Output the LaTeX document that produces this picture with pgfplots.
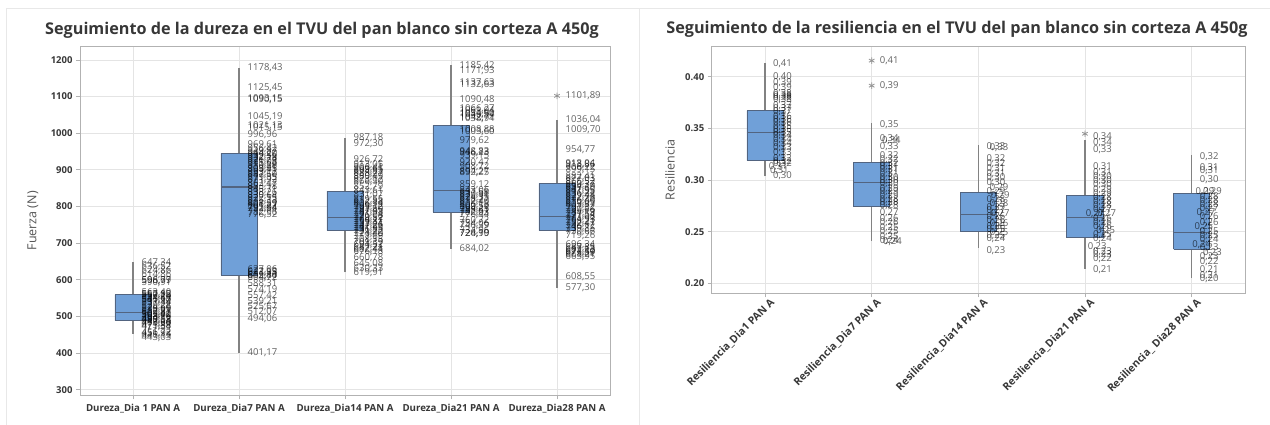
\documentclass[border=0pt]{standalone}
\usepackage{fontspec}
\setmainfont{Open Sans}
\usepackage{pgfplots}
\usepackage{pgfplotstable}
\pgfplotsset{compat=1.18}

\definecolor{boxfill}{RGB}{112,160,216}
\definecolor{boxdraw}{RGB}{82,100,128}
\definecolor{whisk}{RGB}{130,130,130}
\definecolor{gridc}{RGB}{228,228,228}
\definecolor{framec}{RGB}{178,178,178}
\definecolor{txt}{RGB}{55,55,55}
\definecolor{panel}{RGB}{232,232,232}

% ---------- data labels, left chart (Fuerza) ----------
\pgfplotstableread{
x y lab
1 647.34 647,34
1 636.52 636,52
1 624.86 624,86
1 614.86 614,86
1 598.77 598,77
1 596.99 596,99
1 590.91 590,91
1 563.40 563,40
1 560.12 560,12
1 557.85 557,85
1 553.20 553,20
1 548.63 548,63
1 545.17 545,17
1 541.90 541,90
1 537.44 537,44
1 530.28 530,28
1 524.66 524,66
1 519.05 519,05
1 512.37 512,37
1 509.81 509,81
1 505.60 505,60
1 503.42 503,42
1 498.76 498,76
1 494.12 494,12
1 490.55 490,55
1 487.03 487,03
1 483.66 483,66
1 479.20 479,20
1 475.88 475,88
1 471.34 471,34
1 456.72 456,72
1 451.93 451,93
1 446.15 446,15
1 443.03 443,03
2 1178.43 1178,43
2 1125.45 1125,45
2 1093.15 1093,15
2 1090.15 1090,15
2 1045.19 1045,19
2 1021.13 1021,13
2 1015.15 1015,15
2 996.96 996,96
2 969.61 969,61
2 956.42 956,42
2 949.87 949,87
2 944.20 944,20
2 939.56 939,56
2 932.18 932,18
2 926.74 926,74
2 921.03 921,03
2 915.66 915,66
2 910.28 910,28
2 903.95 903,95
2 899.41 899,41
2 893.12 893,12
2 887.60 887,60
2 879.35 879,35
2 871.92 871,92
2 862.47 862,47
2 853.18 853,18
2 845.71 845,71
2 838.26 838,26
2 830.64 830,64
2 822.15 822,15
2 815.33 815,33
2 808.59 808,59
2 801.27 801,27
2 795.84 795,84
2 792.94 792,94
2 782.96 782,96
2 776.52 776,52
2 627.06 627,06
2 622.13 622,13
2 617.95 617,95
2 612.40 612,40
2 609.84 609,84
2 604.72 604,72
2 588.31 588,31
2 574.19 574,19
2 557.42 557,42
2 539.21 539,21
2 525.67 525,67
2 512.07 512,07
2 494.06 494,06
2 401.17 401,17
3 987.18 987,18
3 972.30 972,30
3 926.72 926,72
3 913.05 913,05
3 906.41 906,41
3 899.65 899,65
3 894.83 894,83
3 888.27 888,27
3 880.49 880,49
3 873.12 873,12
3 866.90 866,90
3 852.79 852,79
3 843.61 843,61
3 831.07 831,07
3 819.55 819,55
3 812.88 812,88
3 806.34 806,34
3 799.12 799,12
3 793.60 793,60
3 787.45 787,45
3 781.93 781,93
3 776.08 776,08
3 770.52 770,52
3 764.17 764,17
3 759.81 759,81
3 753.44 753,44
3 747.26 747,26
3 741.63 741,63
3 736.85 736,85
3 731.22 731,22
3 724.40 724,40
3 717.69 717,69
3 708.15 708,15
3 701.39 701,39
3 694.52 694,52
3 687.21 687,21
3 682.44 682,44
3 676.18 676,18
3 660.78 660,78
3 645.08 645,08
3 630.33 630,33
3 619.91 619,91
4 1185.42 1185,42
4 1171.93 1171,93
4 1137.63 1137,63
4 1132.63 1132,63
4 1090.48 1090,48
4 1066.27 1066,27
4 1061.04 1061,04
4 1054.50 1054,50
4 1049.94 1049,94
4 1042.71 1042,71
4 1038.94 1038,94
4 1008.88 1008,88
4 1003.60 1003,60
4 979.62 979,62
4 948.83 948,83
4 946.23 946,23
4 939.15 939,15
4 920.47 920,47
4 908.72 908,72
4 894.27 894,27
4 892.25 892,25
4 859.12 859,12
4 843.06 843,06
4 837.58 837,58
4 830.91 830,91
4 824.35 824,35
4 818.77 818,77
4 812.40 812,40
4 806.13 806,13
4 800.59 800,59
4 794.25 794,25
4 788.61 788,61
4 782.03 782,03
4 776.44 776,44
4 760.72 760,72
4 754.06 754,06
4 746.39 746,39
4 734.96 734,96
4 726.19 726,19
4 724.90 724,90
4 684.02 684,02
5 1101.89 1101,89
5 1036.04 1036,04
5 1009.70 1009,70
5 954.77 954,77
5 918.04 918,04
5 913.86 913,86
5 906.22 906,22
5 899.15 899,15
5 882.41 882,41
5 877.03 877,03
5 866.52 866,52
5 860.37 860,37
5 854.19 854,19
5 847.60 847,60
5 841.95 841,95
5 836.22 836,22
5 829.48 829,48
5 822.73 822,73
5 816.40 816,40
5 810.05 810,05
5 803.87 803,87
5 797.32 797,32
5 790.66 790,66
5 784.19 784,19
5 777.54 777,54
5 771.08 771,08
5 764.93 764,93
5 758.21 758,21
5 752.47 752,47
5 746.12 746,12
5 739.85 739,85
5 730.66 730,66
5 719.26 719,26
5 696.34 696,34
5 687.85 687,85
5 682.13 682,13
5 677.40 677,40
5 673.59 673,59
5 668.21 668,21
5 663.95 663,95
5 608.55 608,55
5 577.30 577,30
}\LabF

% ---------- data labels, right chart (Resiliencia) ----------
\pgfplotstableread{
x y lab
1 0.413 0,41
1 0.400 0,40
1 0.394 0,39
1 0.389 0,39
1 0.384 0,38
1 0.382 0,38
1 0.380 0,38
1 0.378 0,38
1 0.372 0,37
1 0.369 0,37
1 0.366 0,37
1 0.361 0,36
1 0.358 0,36
1 0.355 0,36
1 0.352 0,35
1 0.349 0,35
1 0.346 0,35
1 0.343 0,34
1 0.339 0,34
1 0.335 0,34
1 0.331 0,33
1 0.326 0,33
1 0.321 0,32
1 0.318 0,32
1 0.316 0,32
0.96 0.313 0,31
0.97 0.309 0,31
1 0.304 0,30
2 0.4155 0,41
2 0.3913 0,39
2 0.354 0,35
2 0.340 0,34
2.02 0.338 0,34
2 0.332 0,33
2 0.324 0,32
2 0.320 0,32
2 0.316 0,32
2 0.313 0,31
2 0.310 0,31
2 0.306 0,31
2 0.302 0,30
2 0.299 0,30
2 0.296 0,30
2 0.292 0,29
2 0.289 0,29
2 0.285 0,29
2 0.281 0,28
2 0.278 0,28
2 0.275 0,28
2 0.268 0,27
2 0.263 0,26
2 0.259 0,26
2 0.254 0,25
2 0.250 0,25
2 0.245 0,25
2 0.241 0,24
2.03 0.240 0,24
3 0.332 0,33
3.03 0.331 0,33
3 0.321 0,32
3 0.316 0,32
3 0.311 0,31
3 0.306 0,31
3 0.302 0,30
3 0.297 0,30
3.03 0.293 0,29
3 0.289 0,29
3.04 0.285 0,29
3 0.281 0,28
3.03 0.277 0,28
3 0.273 0,27
3 0.270 0,27
3.04 0.267 0,27
3 0.264 0,26
3 0.261 0,26
3.03 0.258 0,26
3 0.255 0,26
3 0.252 0,25
3.03 0.249 0,25
3 0.246 0,25
3 0.243 0,24
3 0.232 0,23
4 0.342 0,34
4 0.336 0,34
4 0.329 0,33
4 0.313 0,31
4 0.307 0,31
4 0.303 0,30
4 0.299 0,30
4 0.295 0,30
4 0.291 0,29
4 0.287 0,29
4 0.283 0,28
4 0.279 0,28
4 0.275 0,28
4 0.271 0,27
3.93 0.267 0,27
4.04 0.267 0,27
4 0.263 0,26
4 0.259 0,26
4 0.255 0,26
4.03 0.251 0,25
4 0.247 0,25
4 0.243 0,24
3.95 0.235 0,23
4 0.231 0,23
4 0.228 0,23
4 0.224 0,22
4 0.213 0,21
5 0.323 0,32
5 0.312 0,31
5 0.309 0,31
5 0.300 0,30
4.96 0.289 0,29
5.03 0.289 0,29
5 0.284 0,28
5 0.280 0,28
5 0.276 0,28
5 0.272 0,27
4.97 0.268 0,27
5 0.264 0,26
5 0.259 0,26
4.95 0.255 0,25
5 0.250 0,25
5 0.246 0,25
5 0.242 0,24
4.93 0.237 0,24
5 0.234 0,23
5.03 0.230 0,23
5 0.226 0,23
5 0.221 0,22
5 0.213 0,21
5 0.207 0,21
5 0.204 0,20
}\LabR

\pgfplotsset{
  wh/.style={draw=whisk, line width=1.5pt, mark=none},
  bx/.style={fill=boxfill, draw=boxdraw, line width=0.8pt, mark=none},
  md/.style={draw=boxdraw, line width=1.1pt, mark=none},
  outl/.style={only marks, mark=asterisk, mark size=3.2pt, mark options={draw=gray!85, line width=0.8pt}},
  lbl/.style={only marks, mark=none, nodes near coords, point meta=explicit symbolic,
    every node near coord/.append style={anchor=west, inner sep=0pt,
      font=\fontsize{9.5}{9.5}\selectfont, text=black, text opacity=0.62}},
  common/.style={
    scale only axis, anchor=south west,
    xmin=0.5, xmax=5.5, xtick={1,2,3,4,5},
    xmajorgrids, ymajorgrids, grid style={gridc, line width=0.8pt},
    axis line style={framec, line width=0.9pt},
    tick style={framec, line width=0.8pt}, tick align=outside, major tick length=4pt,
    tick pos=left,
    yticklabel style={font=\bfseries\fontsize{9.5}{10}\selectfont, text=txt},
    xticklabel style={font=\bfseries\fontsize{9.7}{10}\selectfont, text=txt},
    clip=false,
  },
}

\begin{document}
\begin{tikzpicture}
\path[use as bounding box] (0,0) rectangle (1270pt,425pt);
\draw[panel, line width=0.9pt] (6pt,0pt) -- (6pt,417pt) -- (639pt,417pt) -- (639pt,0pt);
\draw[panel, line width=0.9pt] (639pt,417pt) -- (1270pt,417pt);

\node[font=\bfseries\fontsize{16.2}{18}\selectfont, text=txt] at (322pt,395pt)
  {Seguimiento de la dureza en el TVU del pan blanco sin corteza A 450g};
\node[font=\bfseries\fontsize{16.2}{18}\selectfont, text=txt] at (957pt,396pt)
  {Seguimiento de la resiliencia en el TVU del pan blanco sin corteza A 450g};

% ================= LEFT: Fuerza =================
\begin{axis}[common,
  at={(80pt,29.5pt)}, width=530pt, height=349.5pt,
  ymin=284, ymax=1238,
  ytick={300,400,500,600,700,800,900,1000,1100,1200},
  yticklabels={300,400,500,600,700,800,900,1000,1100,1200},
  xticklabels={Dureza\_Dia 1 PAN A, Dureza\_Dia7 PAN A, Dureza\_Dia14 PAN A, Dureza\_Dia21 PAN A, Dureza\_Dia28 PAN A},
  xticklabel style={yshift=-1pt},
  every axis y label/.style={at={(axis description cs:-0.0887,0.5)}, rotate=90, anchor=center,
    font=\fontsize{12.5}{13}\selectfont, text=txt!85},
  ylabel={Fuerza (N)},
]
% whiskers
\addplot[wh] coordinates {(1,451.9) (1,647.34)};
\addplot[wh] coordinates {(2,401.17) (2,1178.43)};
\addplot[wh] coordinates {(3,619.91) (3,987.18)};
\addplot[wh] coordinates {(4,684.02) (4,1185.42)};
\addplot[wh] coordinates {(5,577.30) (5,1036.04)};
% boxes (Q1..Q3)
\addplot[bx] coordinates {(0.83,489) (1.17,489) (1.17,559) (0.83,559) (0.83,489)};
\addplot[bx] coordinates {(1.83,613) (2.17,613) (2.17,945) (1.83,945) (1.83,613)};
\addplot[bx] coordinates {(2.83,735) (3.17,735) (3.17,842) (2.83,842) (2.83,735)};
\addplot[bx] coordinates {(3.83,785) (4.17,785) (4.17,1021) (3.83,1021) (3.83,785)};
\addplot[bx] coordinates {(4.83,735) (5.17,735) (5.17,863) (4.83,863) (4.83,735)};
% medians
\addplot[md] coordinates {(0.83,511) (1.17,511)};
\addplot[md] coordinates {(1.83,853) (2.17,853)};
\addplot[md] coordinates {(2.83,769) (3.17,769)};
\addplot[md] coordinates {(3.83,844) (4.17,844)};
\addplot[md] coordinates {(4.83,773) (5.17,773)};
% outlier
\addplot[outl] coordinates {(5,1101.89)};
% point labels
\addplot[lbl, every node near coord/.append style={xshift=8.5pt}] table[x=x, y=y, meta=lab] {\LabF};
\end{axis}

% ================= RIGHT: Resiliencia =================
\begin{axis}[common,
  at={(711.7pt,131.7pt)}, width=533.3pt, height=246.6pt,
  ymin=0.1903, ymax=0.429,
  ytick={0.20,0.25,0.30,0.35,0.40},
  yticklabels={0.20,0.25,0.30,0.35,0.40},
  xticklabels={Resiliencia\_Dia1 PAN A, Resiliencia\_Dia7 PAN A, Resiliencia\_Dia14 PAN A, Resiliencia\_Dia21 PAN A, Resiliencia\_ Dia28 PAN A},
  xticklabel style={rotate=45, anchor=north east, inner sep=1pt, xshift=4pt, yshift=-2pt,
    font=\bfseries\fontsize{10.5}{11}\selectfont},
  every axis y label/.style={at={(axis description cs:-0.0782,0.5)}, rotate=90, anchor=center,
    font=\fontsize{12.5}{13}\selectfont, text=txt!85},
  ylabel={Resiliencia},
]
\addplot[wh] coordinates {(1,0.3035) (1,0.413)};
\addplot[wh] coordinates {(2,0.2414) (2,0.355)};
\addplot[wh] coordinates {(3,0.2344) (3,0.334)};
\addplot[wh] coordinates {(4,0.214) (4,0.339)};
\addplot[wh] coordinates {(5,0.2053) (5,0.3244)};
\addplot[bx] coordinates {(0.83,0.319) (1.17,0.319) (1.17,0.367) (0.83,0.367) (0.83,0.319)};
\addplot[bx] coordinates {(1.83,0.274) (2.17,0.274) (2.17,0.317) (1.83,0.317) (1.83,0.274)};
\addplot[bx] coordinates {(2.83,0.2504) (3.17,0.2504) (3.17,0.288) (2.83,0.288) (2.83,0.2504)};
\addplot[bx] coordinates {(3.83,0.244) (4.17,0.244) (4.17,0.2848) (3.83,0.2848) (3.83,0.244)};
\addplot[bx] coordinates {(4.83,0.2327) (5.17,0.2327) (5.17,0.2867) (4.83,0.2867) (4.83,0.2327)};
\addplot[md] coordinates {(0.83,0.346) (1.17,0.346)};
\addplot[md] coordinates {(1.83,0.2977) (2.17,0.2977)};
\addplot[md] coordinates {(2.83,0.2665) (3.17,0.2665)};
\addplot[md] coordinates {(3.83,0.2633) (4.17,0.2633)};
\addplot[md] coordinates {(4.83,0.2494) (5.17,0.2494)};
\addplot[outl] coordinates {(2,0.4155) (2,0.3913) (4,0.3447)};
\addplot[lbl, every node near coord/.append style={xshift=8pt}] table[x=x, y=y, meta=lab] {\LabR};
\end{axis}
\end{tikzpicture}
\end{document}
